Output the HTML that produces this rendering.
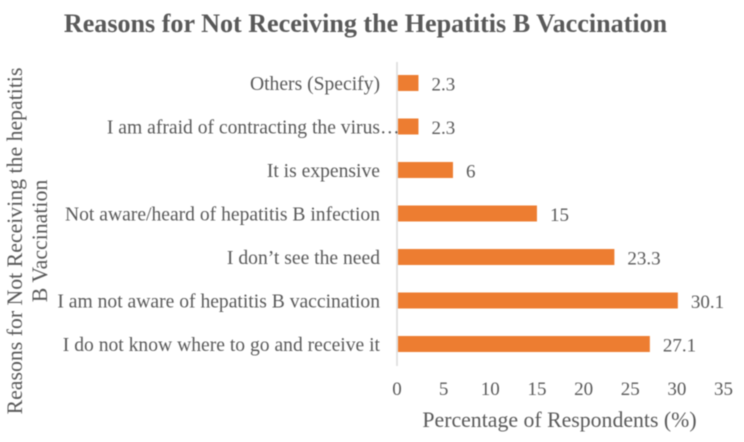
<!DOCTYPE html>
<html>
<head>
<meta charset="utf-8">
<style>
html,body{margin:0;padding:0;background:#fff;width:744px;height:442px;overflow:hidden}
svg{display:block;filter:blur(.45px)}
text{font-family:"Liberation Serif",serif;fill:#595959}
</style>
</head>
<body>
<svg id="chart" width="744" height="442" viewBox="0 0 744 442" xmlns="http://www.w3.org/2000/svg">
<text x="365.5" y="32" text-anchor="middle" font-size="26.1" font-weight="bold">Reasons for Not Receiving the Hepatitis B Vaccination</text>
<text transform="translate(22,241) rotate(-90)" text-anchor="middle" font-size="21.8">Reasons for Not Receiving the hepatitis</text>
<text transform="translate(47,241) rotate(-90)" text-anchor="middle" font-size="21.8">B Vaccination</text>
<text x="559.5" y="427" text-anchor="middle" font-size="21.8">Percentage of Respondents (%)</text>
<g id="plot"></g>
</svg>
<script>
const categories = ["Others (Specify)", "I am afraid of contracting the virus…", "It is expensive", "Not aware/heard of hepatitis B infection", "I don’t see the need", "I am not aware of hepatitis B vaccination", "I do not know where to go and receive it"];
const seriesValues = [2.3, 2.3, 6, 15, 23.3, 30.1, 27.1];
const valueLabels = ["2.3", "2.3", "6", "15", "23.3", "30.1", "27.1"];
const tickValues = [0, 5, 10, 15, 20, 25, 30, 35];

const NS = "http://www.w3.org/2000/svg";
const plot = document.getElementById("plot");
const xScale = v => 397 + v * 9.33;
const yBand = i => 83 + i * 43.5;
const catFont = 19.6;
function make(tag, attrs, txt) {
  const el = document.createElementNS(NS, tag);
  for (const k in attrs) el.setAttribute(k, attrs[k]);
  if (txt !== undefined) el.textContent = txt;
  plot.appendChild(el);
  return el;
}
const axisLine = make("line", {x1: xScale(0), x2: xScale(0), y1: 62, y2: 366, stroke: "#d9d9d9", "stroke-width": 1.5});


tickValues.forEach(t => {
  const tick = make("text", {x: xScale(t), y: 395, "text-anchor": "middle", "font-size": 19}, String(t));
  
  
});
categories.forEach((c, i) => {
  const labelEnd = c.endsWith("…") ? 380 + catFont : 380;
  const label = make("text", {x: labelEnd, y: yBand(i) + 7, "text-anchor": "end", "font-size": catFont}, c);
  
  
  const bar = make("rect", {x: xScale(0) + 1, y: yBand(i) - 8, width: xScale(seriesValues[i]) - xScale(0) - 1, height: 16, fill: "#ed7d31"});
  
  
  const val = make("text", {x: xScale(seriesValues[i]) + 13, y: yBand(i) + 7.7, "font-size": 19}, valueLabels[i]);
  
  
});
</script>
</body>
</html>
